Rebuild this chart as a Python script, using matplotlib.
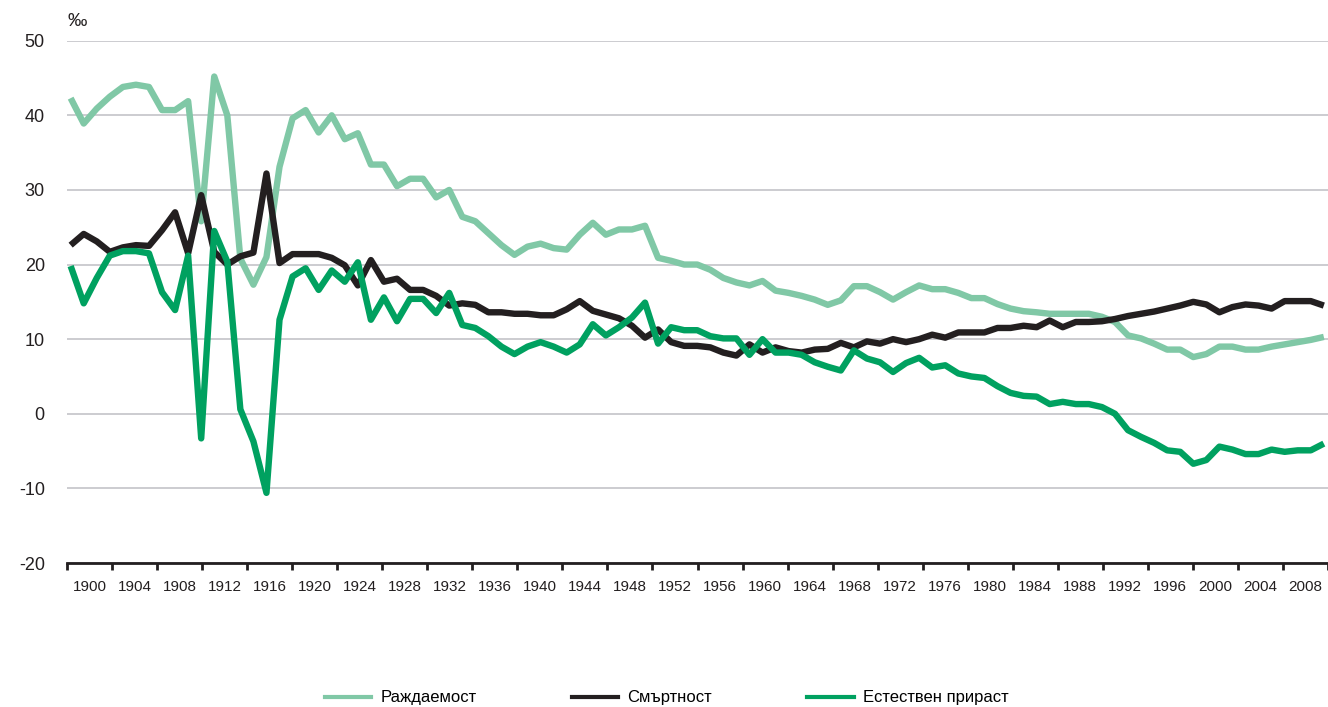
import matplotlib
matplotlib.use("Agg")
import matplotlib.pyplot as plt
from matplotlib.lines import Line2D
import numpy as np

# values, per mille
birth_rate = [
    42.3, 38.9, 40.9, 42.5, 43.8, 44.1, 43.8, 40.7, 40.7, 41.9,
    25.8, 45.2, 40.0, 20.8, 17.3, 21.0, 33.1, 39.6, 40.7, 37.7,
    40.0, 36.8, 37.6, 33.4, 33.4, 30.5, 31.5, 31.5, 29.0, 30.0,
    26.4, 25.8, 24.2, 22.6, 21.3, 22.4, 22.8, 22.2, 22.0, 24.0,
    25.6, 24.0, 24.7, 24.7, 25.2, 20.9, 20.5, 20.0, 20.0, 19.3,
    18.2, 17.6, 17.2, 17.8, 16.5, 16.2, 15.8, 15.3, 14.6, 15.2,
    17.1, 17.1, 16.3, 15.3, 16.3, 17.2, 16.7, 16.7, 16.2, 15.5,
    15.5, 14.7, 14.1, 13.75, 13.6, 13.4, 13.4, 13.4, 13.4, 13.0,
    12.3, 10.5, 10.1, 9.4, 8.6, 8.6, 7.6, 8.0, 9.0, 9.0,
    8.6, 8.6, 9.0, 9.3, 9.6, 9.9, 10.3,
]
death_rate = [
    22.6, 24.1, 23.1, 21.7, 22.3, 22.6, 22.5, 24.6, 27.0, 21.5,
    29.3, 21.7, 20.0, 21.1, 21.6, 32.2, 20.2, 21.4, 21.4, 21.4,
    20.9, 19.9, 17.2, 20.6, 17.7, 18.1, 16.6, 16.6, 15.8, 14.5,
    14.8, 14.6, 13.6, 13.6, 13.4, 13.4, 13.2, 13.2, 14.0, 15.1,
    13.8, 13.3, 12.8, 11.8, 10.2, 11.3, 9.6, 9.1, 9.1, 8.9,
    8.2, 7.8, 9.3, 8.2, 8.9, 8.4, 8.2, 8.6, 8.7, 9.5,
    8.9, 9.7, 9.4, 10.0, 9.6, 10.0, 10.6, 10.2, 10.9, 10.9,
    10.9, 11.5, 11.5, 11.8, 11.6, 12.5, 11.6, 12.3, 12.3, 12.4,
    12.7, 13.1, 13.4, 13.7, 14.1, 14.5, 15.0, 14.65, 13.6, 14.3,
    14.65, 14.5, 14.1, 15.1, 15.1, 15.1, 14.5,
]
natural_increase = [
    19.8, 14.8, 18.2, 21.2, 21.8, 21.8, 21.5, 16.3, 13.9, 21.2,
    -3.3, 24.5, 20.4, 0.6, -3.7, -10.6, 12.6, 18.4, 19.5, 16.6,
    19.2, 17.7, 20.3, 12.6, 15.6, 12.4, 15.4, 15.4, 13.5, 16.2,
    11.9, 11.5, 10.4, 9.0, 8.0, 9.0, 9.6, 9.0, 8.2, 9.3,
    12.0, 10.5, 11.6, 12.9, 14.9, 9.4, 11.6, 11.2, 11.2, 10.4,
    10.1, 10.1, 7.9, 10.0, 8.2, 8.2, 7.9, 6.9, 6.3, 5.8,
    8.5, 7.4, 6.9, 5.6, 6.8, 7.5, 6.2, 6.5, 5.4, 5.0,
    4.8, 3.7, 2.8, 2.4, 2.3, 1.3, 1.6, 1.3, 1.3, 0.9,
    0.0, -2.2, -3.1, -3.9, -4.9, -5.1, -6.7, -6.2, -4.4, -4.8,
    -5.4, -5.4, -4.8, -5.1, -4.9, -4.9, -4.0,
]
label_years = list(range(1900, 2012, 4))
series_names = ["Раждаемост", "Смъртност", "Естествен прираст"]
colors = ["#80c8a6", "#231f20", "#00a160"]

FONT = ["Liberation Sans", "DejaVu Sans"]
TXT = "#231f20"

fig = plt.figure(figsize=(13.28, 7.07), dpi=100)
ax = fig.add_axes([67 / 1328, 1 - 563 / 707, 1 - 67 / 1328, (563 - 40.7) / 707])

x = np.arange(len(birth_rate))
for vals, c in zip([birth_rate, death_rate, natural_increase], colors):
    ax.plot(x, vals, color=c, lw=4.6, solid_joinstyle="round", solid_capstyle="butt")

ax.set_ylim(-20, 50)
ax.set_xlim(-0.28, 96.05)
ax.set_yticks(range(-20, 51, 10))
ax.set_yticklabels([str(v) for v in range(-20, 51, 10)], family=FONT, fontsize=13, color=TXT)
ax.tick_params(axis="y", length=0, pad=16)
ax.yaxis.grid(True, color="#c4c4c8", lw=1.2)
ax.set_axisbelow(True)

# tick marks every 4 years, labels centred between them
step = 3.45
ax.set_xticks(-0.28 + step * np.arange(len(label_years) + 1))
ax.set_xticklabels([])
ax.tick_params(axis="x", which="major", length=5, width=2, color=TXT, direction="out")
ax.set_xticks(-0.28 + step * (np.arange(len(label_years)) + 0.5), minor=True)
ax.set_xticklabels([str(y) for y in label_years], minor=True, family=FONT, fontsize=11, color=TXT)
ax.tick_params(axis="x", which="minor", length=0, pad=12)

for s in ["top", "right", "left"]:
    ax.spines[s].set_visible(False)
ax.spines["bottom"].set_color(TXT)
ax.spines["bottom"].set_linewidth(2)

fig.text(67 / 1328, 1 - 22 / 707, "‰", fontsize=14, color=TXT, family=FONT, va="center", ha="left")

handles = [Line2D([], [], color=c, lw=3) for c in colors]
fig.legend(handles, series_names, loc="lower center", bbox_to_anchor=(0.502, -0.019),
           ncol=3, frameon=False, handlelength=2.8, handletextpad=0.55, columnspacing=5.7,
           prop={"family": FONT, "size": 12})

fig.savefig("out.png", dpi=100)
